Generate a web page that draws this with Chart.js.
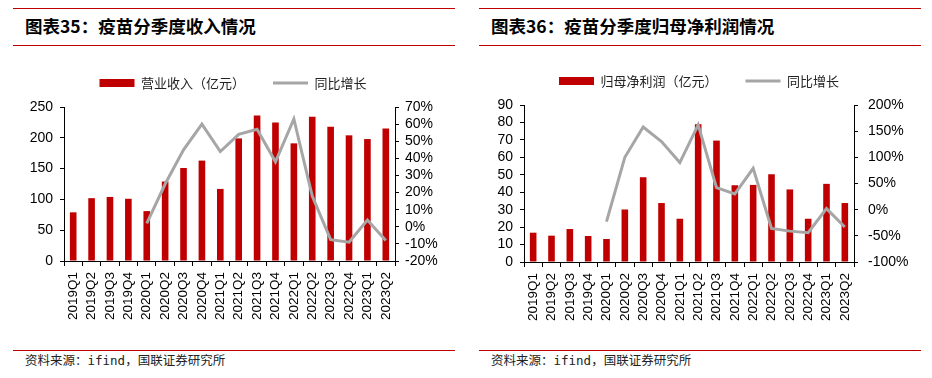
<!DOCTYPE html>
<html>
<head>
<meta charset="utf-8">
<script src="https://cdn.jsdelivr.net/npm/chart.js@4.4.0/dist/chart.umd.min.js"></script>
<style>
  html, body { margin: 0; padding: 0; background: #fff; }
  body { width: 932px; height: 378px; position: relative; overflow: hidden; }
  .rule { position: absolute; height: 1px; background: #C00000; }
  .title { position: absolute; font-family: "Noto Sans CJK SC", sans-serif; font-weight: 700; font-size: 17.5px; line-height: 18px; color: #000; white-space: nowrap; }
  .src { position: absolute; font-family: "DejaVu Sans Mono", "Noto Sans CJK SC", monospace; font-size: 12.5px; line-height: 13px; color: #222; white-space: nowrap; }
  canvas { position: absolute; }
</style>
</head>
<body>
<div class="rule" style="left:13px; top:8px; width:442px;"></div>
<div class="rule" style="left:13px; top:45px; width:442px;"></div>
<div class="title" style="left:25px; top:17px;">图表35：疫苗分季度收入情况</div>
<div class="rule" style="left:479px; top:8px; width:442px;"></div>
<div class="rule" style="left:479px; top:45px; width:442px;"></div>
<div class="title" style="left:491px; top:17px;">图表36：疫苗分季度归母净利润情况</div>

<canvas id="c1" width="466" height="290" style="left:0px; top:45px;"></canvas>
<canvas id="c2" width="466" height="290" style="left:466px; top:45px;"></canvas>

<div class="rule" style="left:13px; top:350px; width:442px;"></div>
<div class="src" style="left:25px; top:354px;">资料来源：ifind，国联证券研究所</div>
<div class="rule" style="left:479px; top:350px; width:442px;"></div>
<div class="src" style="left:491px; top:354px;">资料来源：ifind，国联证券研究所</div>

<script>
// ---- data ----
const quarters = ['2019Q1','2019Q2','2019Q3','2019Q4','2020Q1','2020Q2','2020Q3','2020Q4',
                  '2021Q1','2021Q2','2021Q3','2021Q4','2022Q1','2022Q2','2022Q3','2022Q4',
                  '2023Q1','2023Q2'];
const revenue = [79, 102, 104, 101, 81, 129, 151, 163, 117, 199, 236, 225, 191, 234, 218, 204, 198, 215];
const revenueGrowth = [null, null, null, null, 2, 25, 45, 60, 44, 54, 57, 38, 63, 18, -7.5, -9, 4, -8];
const profit = [16.8, 15.1, 18.9, 14.9, 13.2, 30.1, 48.6, 33.8, 24.8, 78.9, 69.6, 44, 44.2, 50.3, 41.6, 24.8, 44.8, 33.8];
const profitGrowth = [null, null, null, null, -23, 100, 158, 130, 90, 162, 42, 30, 79, -36, -41, -44, 2, -33];

const revenueLabel = '营业收入（亿元）';
const profitLabel = '归母净利润（亿元）';
const growthLabel = '同比增长';
const revenueAxis = { min: 0, max: 250, step: 50 };
const revenueGrowthAxis = { min: -20, max: 70, step: 10 };
const profitAxis = { min: 0, max: 90, step: 10 };
const profitGrowthAxis = { min: -100, max: 200, step: 50 };

// ---- styles ----
const RED = '#C00000';
const GRAY = '#A6A6A6';
const tickFont = { family: "'Liberation Sans', Arial, sans-serif", size: 14 };
const xFont = { family: "'Liberation Sans', Arial, sans-serif", size: 13.5 };
const legendFont = { family: "'Noto Sans CJK SC', sans-serif", size: 13 };

function legendGap(gap) {
  return {
    id: 'legendGap',
    beforeInit(chart) {
      const orig = chart.legend.fit;
      chart.legend.fit = function () { orig.call(this); this.height += gap; };
    }
  };
}

function makeChart(id, barLabel, barData, lineData, leftAx, rightAx, geo) {
  return new Chart(document.getElementById(id), {
    data: {
      labels: quarters,
      datasets: [
        { type: 'bar', label: barLabel, data: barData, backgroundColor: RED, borderWidth: 0,
          barPercentage: 0.36, categoryPercentage: 1, yAxisID: 'y', order: 1, pointStyle: 'rect' },
        { type: 'line', label: growthLabel, data: lineData, borderColor: GRAY, backgroundColor: GRAY,
          borderWidth: 3, pointRadius: 0, tension: 0, yAxisID: 'y1', order: 0, pointStyle: 'line' }
      ]
    },
    options: {
      responsive: false,
      animation: false,
      devicePixelRatio: 1,
      layout: { padding: { top: geo.padTop, bottom: geo.padBottom, left: 0, right: 0 } },
      plugins: {
        tooltip: { enabled: false },
        legend: {
          display: true, position: 'top', align: 'center',
          labels: {
            usePointStyle: true, pointStyleWidth: 35, boxHeight: 8, padding: 28,
            font: legendFont, color: '#222',
            sort: (a, b) => a.datasetIndex - b.datasetIndex
          }
        }
      },
      scales: {
        x: {
          type: 'category', offset: true,
          grid: { display: true, offset: true, drawOnChartArea: false, drawTicks: true, tickLength: 5, color: '#000' },
          border: { display: true, color: '#000', width: 1 },
          ticks: { autoSkip: false, maxRotation: 90, minRotation: 90, padding: 6, font: xFont, color: '#000' },
          afterFit(s) { s.height = geo.xHeight; }
        },
        y: {
          position: 'left', min: leftAx.min, max: leftAx.max,
          grid: { drawOnChartArea: false, drawTicks: true, tickLength: 4, color: '#000' },
          border: { display: true, color: '#000', width: 1 },
          ticks: { autoSkip: false, stepSize: leftAx.step, padding: geo.leftPad, font: tickFont, color: '#000' },
          afterFit(s) { s.width = geo.leftW; }
        },
        y1: {
          position: 'right', min: rightAx.min, max: rightAx.max,
          grid: { drawOnChartArea: false, drawTicks: true, tickLength: 4, color: '#000' },
          border: { display: true, color: '#000', width: 1 },
          ticks: { autoSkip: false, stepSize: rightAx.step, padding: geo.rightPad, font: tickFont, color: '#000',
                   callback: v => v + '%' },
          afterFit(s) { s.width = geo.rightW; }
        }
      }
    },
    plugins: [legendGap(geo.gap)]
  });
}

makeChart('c1', revenueLabel, revenue, revenueGrowth, revenueAxis, revenueGrowthAxis,
  { padTop: 3.5, padBottom: 14, xHeight: 60, leftW: 64, rightW: 71, leftPad: 7, rightPad: 6, gap: 7.5 });
makeChart('c2', profitLabel, profit, profitGrowth, profitAxis, profitGrowthAxis,
  { padTop: 1.5, padBottom: 13, xHeight: 60, leftW: 58, rightW: 78, leftPad: 7, rightPad: 10, gap: 7.5 });
</script>
</body>
</html>
